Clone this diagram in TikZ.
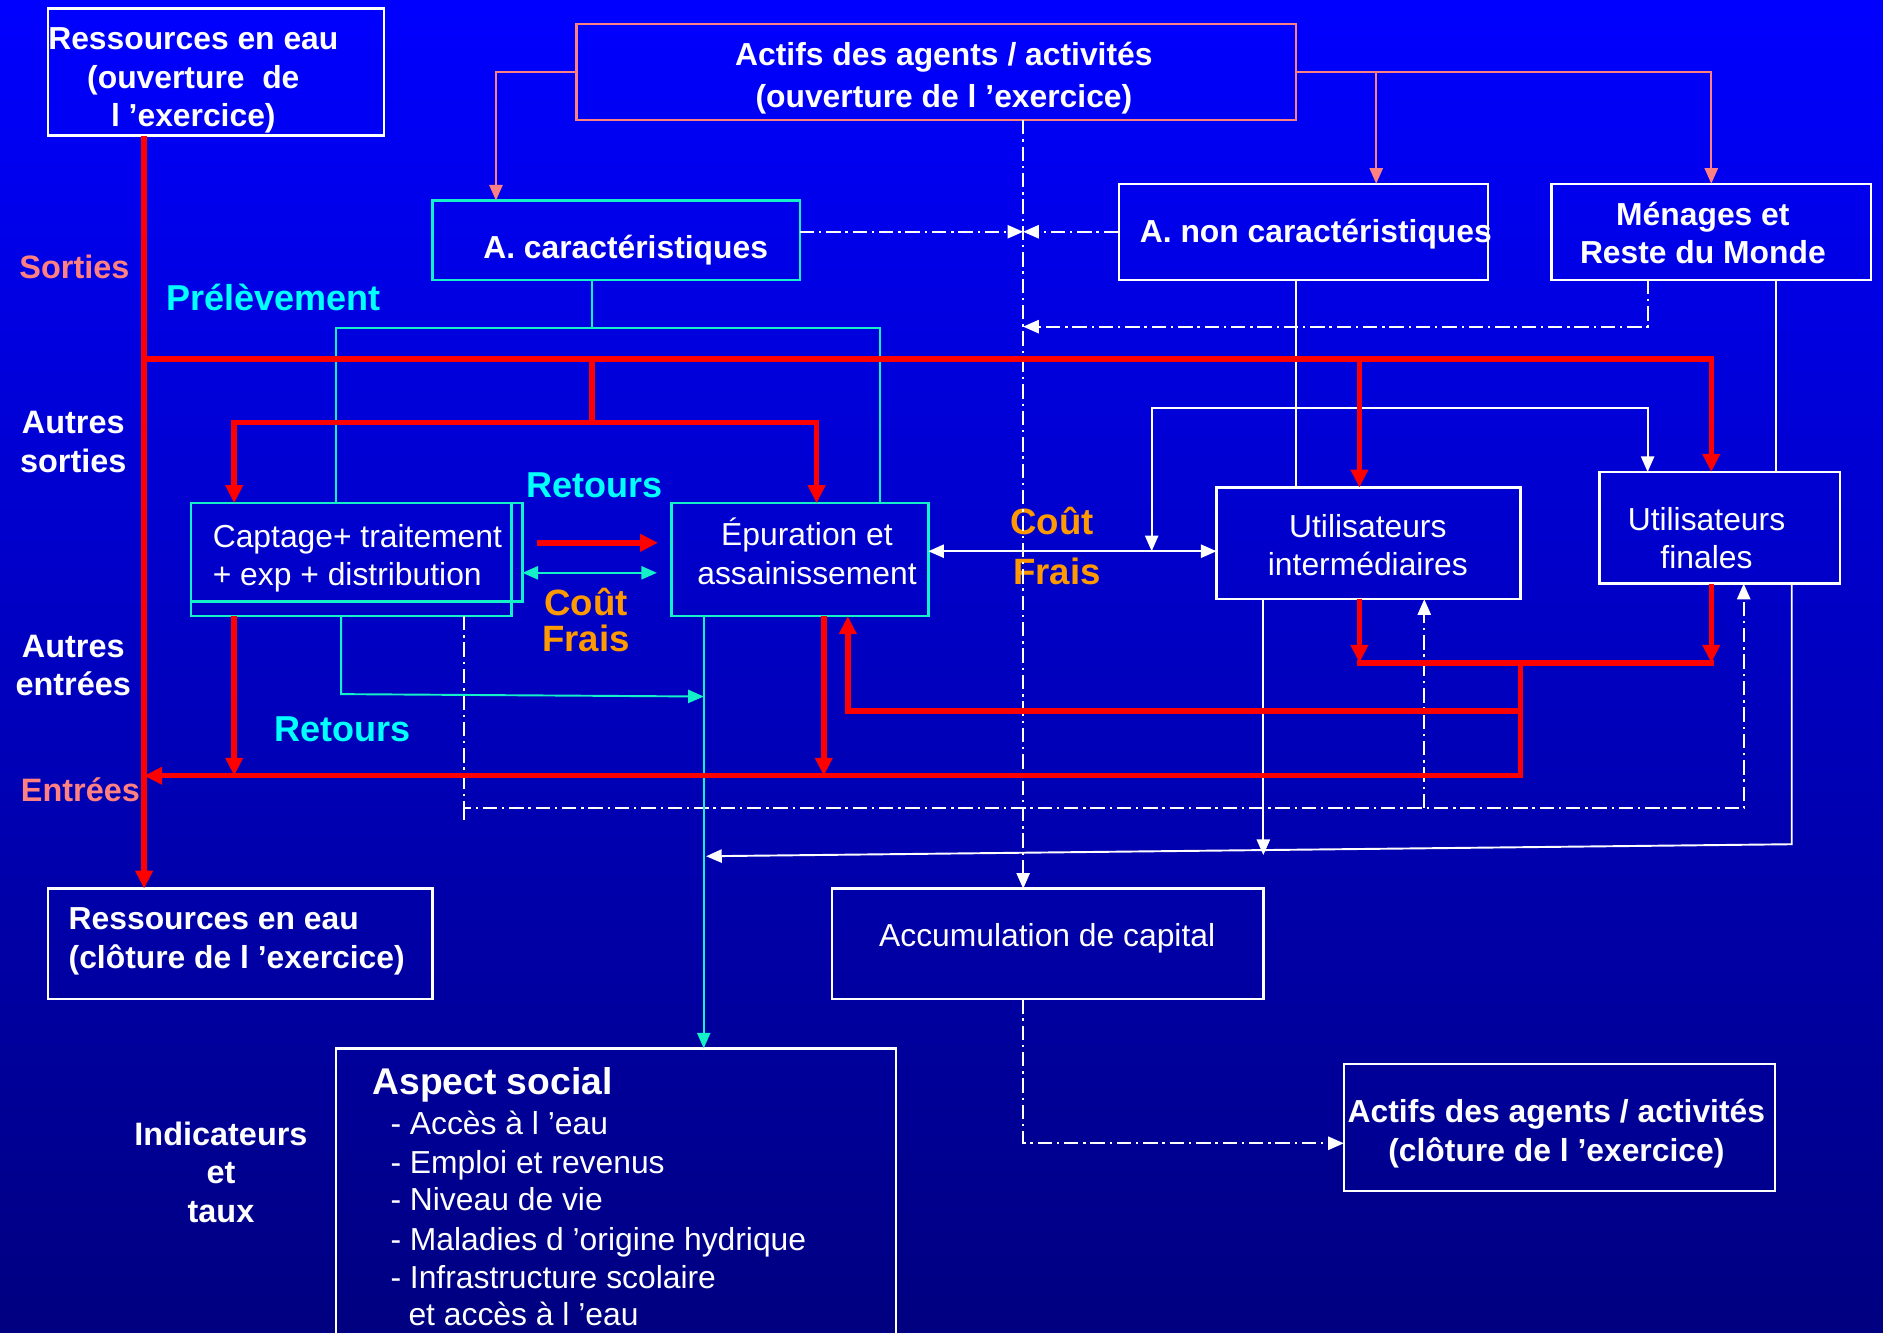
\documentclass[tikz,border=0pt]{standalone}
\usepackage{fontspec}
\setmainfont{Liberation Sans}
\usetikzlibrary{arrows.meta}
\definecolor{salm}{RGB}{255,128,128}
\definecolor{cyl}{RGB}{20,240,200}
\definecolor{cyt}{RGB}{0,255,255}
\definecolor{orng}{RGB}{255,153,0}
\definecolor{bgtop}{RGB}{0,0,255}
\definecolor{bgbot}{RGB}{0,0,128}
\begin{document}
\begin{tikzpicture}[x=1pt,y=-1pt,
  bx/.style={draw=white,line width=2pt,inner sep=0pt},
  cbx/.style={bx,draw=cyl},
  sbx/.style={bx,draw=salm},
  txt/.style={text=white,font=\fontsize{26.5}{32}\selectfont,align=center,inner sep=0pt},
  btxt/.style={txt,font=\bfseries\fontsize{26.5}{32}\selectfont},
  lab/.style={text=white,font=\bfseries\fontsize{27}{32}\selectfont,align=center,inner sep=0pt},
  lab30/.style={lab,font=\bfseries\fontsize{30}{34}\selectfont},
  lab31/.style={lab,font=\bfseries\fontsize{30.5}{34}\selectfont},
  sl/.style={draw=salm,line width=1.6pt},
  wl/.style={draw=white,line width=1.6pt},
  dd/.style={draw=white,line width=1.6pt,dash pattern=on 12pt off 4pt on 2pt off 4pt},
  cl/.style={draw=cyl,line width=1.6pt},
  rl/.style={draw=red,line width=4.5pt},
  arw/.style={-{Triangle[length=13pt,width=11pt]}},
  arws/.style={{Triangle[length=13pt,width=11pt]}-{Triangle[length=13pt,width=11pt]}},
  rarw/.style={-{Triangle[length=15pt,width=14pt]}},
  rarws/.style={{Triangle[length=15pt,width=14pt]}-{Triangle[length=15pt,width=14pt]}},
]
\fill[top color=bgtop,bottom color=bgbot] (0,0) rectangle (1568,1110);
\useasboundingbox (0,0) rectangle (1568,1110);
\clip (0,0) rectangle (1568,1110);

% ---------- boxes ----------
\node[bx,minimum width=280pt,minimum height=106pt] (rso) at (180,60) {};
\node[btxt] (rsot) at (161,67) {Ressources en eau\\(ouverture~ de\\l ’exercice)};
\node[sbx,minimum width=599pt,minimum height=80pt] (act) at (779.5,60) {};
\node[btxt,font=\bfseries\fontsize{26.5}{35}\selectfont] (actt) at (786,65) {Actifs des agents / activités\\(ouverture de l ’exercice)};
\node[cbx,minimum width=306pt,minimum height=66pt] (acar) at (513,200) {};
\node[btxt] (acart) at (521,208) {A. caractéristiques};
\node[bx,minimum width=307pt,minimum height=80pt] (anon) at (1085.5,193) {};
\node[btxt,anchor=west] (anont) at (949,195) {A. non caractéristiques};
\node[bx,minimum width=266pt,minimum height=80pt] (men) at (1425,193) {};
\node[btxt] (ment) at (1418,194) {Ménages et\\Reste du Monde};
\node[cbx,minimum width=276pt,minimum height=82pt] (capa) at (297,460) {};
\node[cbx,minimum width=267pt,minimum height=94pt] (cap) at (292.5,466) {};
\node[txt,anchor=west,align=left] (capt) at (177,465) {Captage+ traitement\\+ exp + distribution};
\node[cbx,minimum width=214pt,minimum height=94pt] (epu) at (666,466) {};
\node[txt] (eput) at (672,459) {Épuration et\\assainissement};
\node[bx,minimum width=253pt,minimum height=93pt] (uint) at (1139.5,452.5) {};
\node[txt] (uintt) at (1139,454) {Utilisateurs\\intermédiaires};
\node[bx,minimum width=200pt,minimum height=93pt] (ufin) at (1432,439.5) {};
\node[txt] (ufint) at (1421,448) {Utilisateurs\\finales};
\node[bx,minimum width=320pt,minimum height=92pt] (rsc) at (200,786) {};
\node[btxt,anchor=west,align=left] (rsct) at (57,784) {Ressources en eau\\(clôture de l ’exercice)};
\node[bx,minimum width=359pt,minimum height=92pt] (acc) at (872.5,786) {};
\node[txt] (acct) at (872,781) {Accumulation de capital};
\node[bx,minimum width=466pt,minimum height=250pt] (soc) at (513,998) {};
\node[btxt,font=\bfseries\fontsize{31}{36}\selectfont,anchor=base west] (soct) at (310,911) {Aspect social};
\node[txt,anchor=base west] (si1) at (325,945) {- Accès à l ’eau};
\node[txt,anchor=base west] (si2) at (325,977) {- Emploi et revenus};
\node[txt,anchor=base west] (si3) at (325,1008) {- Niveau de vie};
\node[txt,anchor=base west] (si4) at (325,1041) {- Maladies d ’origine hydrique};
\node[txt,anchor=base west] (si5) at (325,1073) {- Infrastructure scolaire};
\node[txt,anchor=base west] (si6) at (340,1104) {et accès à l ’eau};
\node[bx,minimum width=359pt,minimum height=106pt] (acl) at (1298.5,939) {};
\node[btxt] (aclt) at (1296,944) {Actifs des agents / activités\\(clôture de l ’exercice)};

% ---------- labels ----------
\node[lab,text=salm] (sort) at (62,222) {Sorties};
\node[lab30,text=cyt] (prel) at (228,248) {Prélèvement};
\node[lab] (asor) at (61,368) {Autres\\sorties};
\node[lab] (aent) at (61,554) {Autres\\entrées};
\node[lab,text=salm] (entr) at (67,658) {Entrées};
\node[lab30,text=cyt] (ret1) at (495,404) {Retours};
\node[lab30,text=cyt] (ret2) at (285,607) {Retours};
\node[lab31,text=orng] (cout1) at (488,501) {Coût};
\node[lab31,text=orng] (frais1) at (488,532) {Frais};
\node[lab31,text=orng] (cout2) at (876,434) {Coût};
\node[lab31,text=orng] (frais2) at (880,476) {Frais};
\node[lab] (ind) at (184,976) {Indicateurs\\et\\taux};

% ---------- coordinates on boxes ----------
\coordinate (acarN) at (413,167);
\coordinate (anonN) at (1146,153);
\coordinate (menN) at (1425,153);
\coordinate (jAct) at (1146,60);
\coordinate (actS) at (852,100);
\coordinate (accN) at (852,740);
\coordinate (accS) at (852,832);
\coordinate (aclW) at (1119,952);
\coordinate (acarE) at (666,193);
\coordinate (mid) at (852,193);
\coordinate (mid2) at (852,272);
\coordinate (menS1) at (1372,233);
\coordinate (menS2) at (1479,233);
\coordinate (anonS) at (1079,233);
\coordinate (uintN1) at (1079,406);
\coordinate (uintN2) at (1132,406);
\coordinate (ufinN1) at (1372,393);
\coordinate (ufinN2) at (1425,393);
\coordinate (ufinN3) at (1479,393);
\coordinate (uintW) at (1013,459);
\coordinate (epuE) at (773,459);
\coordinate (uintS1) at (1052,499);
\coordinate (uintS2) at (1132,499);
\coordinate (uintS3) at (1186,499);
\coordinate (ufinS1) at (1425,486);
\coordinate (ufinS2) at (1452,486);
\coordinate (ufinS3) at (1492,486);
\coordinate (acarS) at (493,233);
\coordinate (capN1) at (195,419);
\coordinate (capN2) at (280,419);
\coordinate (epuN1) at (680,419);
\coordinate (epuN2) at (733,419);
\coordinate (capE) at (435,477);
\coordinate (epuW) at (547,477);
\coordinate (capS1) at (195,513);
\coordinate (capS2) at (284,513);
\coordinate (capS3) at (386,513);
\coordinate (epuS1) at (586,513);
\coordinate (epuS2) at (686,513);
\coordinate (epuS3) at (706,513);
\coordinate (socN) at (586,873);
\coordinate (rsoS) at (120,113);
\coordinate (rscN) at (120,740);
\coordinate (dc1) at (386,673);
\coordinate (dc2) at (1452,673);
\coordinate (dc3) at (1186,673);
\coordinate (wj1) at (959,459);
\coordinate (wj2) at (959,340);
\coordinate (wj3) at (1372,340);

% ---------- salmon ----------
\draw[sl,arw] (act.west) -| (acarN);
\draw[sl,arw] (act.east) -| (menN);
\draw[sl,arw] (jAct) -- (anonN);

% ---------- white dash-dot ----------
\draw[dd,arw] (actS) -- (accN);
\draw[dd,arw] (acarE) -- (mid);
\draw[dd,arw] (anon.west) -- (mid);
\draw[dd,arw] (menS1) |- (mid2);
\draw[dd,arw] (accS) |- (aclW);
\draw[dd,arw] (capS3) -- (dc1) -- (dc2) -- (ufinS2);
\draw[dd] (dc1) -- (386,683);
\draw[dd,arw] (dc3) -- (uintS3);

% ---------- white solid ----------
\draw[wl] (anonS) -- (uintN1);
\draw[wl] (menS2) -- (ufinN3);
\draw[wl,arws] (wj1) -- (wj2) -- (wj3) -- (ufinN1);
\draw[wl,arws] (epuE) -- (uintW);
\draw[wl,arw] (uintS1) -- (1052,712);
\draw[wl,arw] (ufinS3) -- (1492,703) -- (588,713);

% ---------- cyan ----------
\draw[cl] (acarS) -- (493,273);
\draw[cl] (capN2) |- (733,273) -- (epuN2);
\draw[cl,arws] (capE) -- (epuW);
\draw[cl,arw] (capS2) -- (284,578) -- (586,580);
\draw[cl,arw] (epuS1) -- (socN);

% ---------- red ----------
\draw[rl,rarw] (rsoS) -- (rscN);
\draw[rl,rarw] (120,299) -| (ufinN2);
\draw[rl,rarw] (1132,299) -- (uintN2);
\draw[rl] (493,299) -- (493,352);
\draw[rl,rarws] (capN1) |- (680,352) -- (epuN1);
\draw[rl,rarw] (447,452) -- (548,452);
\draw[rl,rarw] (capS1) -- (195,646);
\draw[rl,rarw] (epuS2) -- (686,646);
\draw[rl,rarw] (uintS2) -- (1132,552);
\draw[rl,rarw] (ufinS1) -- (1425,552);
\draw[rl,line cap=rect] (1132,552) -- (1425,552);
\draw[rl,rarw] (1266,552) -- (1266,646) -- (120,646);
\draw[rl,rarw] (1266,592) -| (epuS3);
\end{tikzpicture}
\end{document}
